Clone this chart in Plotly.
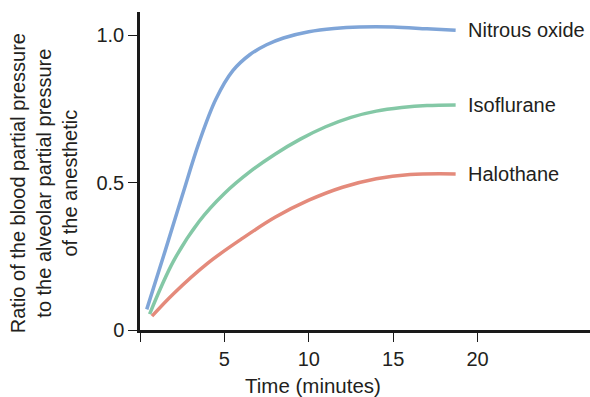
import plotly.graph_objects as go

# Time (minutes) and blood/alveolar partial pressure ratio for each anesthetic
nitrous_t = [0.4, 1.5, 2.5, 3.5, 4.5, 5.5, 6.5, 7.5, 8.5, 10.0, 11.5, 13.0, 15.0, 17.0, 18.7]
nitrous_v = [0.07, 0.27, 0.455, 0.636, 0.783, 0.879, 0.933, 0.967, 0.99, 1.011, 1.022, 1.027, 1.027, 1.021, 1.016]

iso_t = [0.57, 2.0, 3.5, 5.0, 6.5, 8.0, 9.5, 11.0, 12.5, 14.0, 15.5, 17.0, 18.7]
iso_v = [0.054, 0.235, 0.368, 0.463, 0.536, 0.596, 0.647, 0.689, 0.721, 0.742, 0.754, 0.761, 0.763]

halo_t = [0.71, 2.0, 4.0, 6.0, 8.0, 10.0, 12.0, 14.0, 16.0, 18.7]
halo_v = [0.047, 0.124, 0.226, 0.308, 0.382, 0.44, 0.484, 0.513, 0.527, 0.529]

names = ["Nitrous oxide", "Isoflurane", "Halothane"]
colors = ["#7fa5d8", "#84c8a6", "#e48a7b"]

x_ticks = [0, 5, 10, 15, 20]
x_tick_text = ["", "5", "10", "15", "20"]
y_ticks = [0, 0.5, 1.0]
y_tick_text = ["0", "0.5", "1.0"]

FONT = "Liberation Sans, Arial, Helvetica, sans-serif"
TEXT_COLOR = "#231f20"

fig = go.Figure()
series = [(nitrous_t, nitrous_v), (iso_t, iso_v), (halo_t, halo_v)]
for (t, v), name, color in zip(series, names, colors):
    fig.add_trace(go.Scatter(
        x=t, y=v, mode="lines", name=name,
        line=dict(color=color, width=3.5, shape="spline", smoothing=1.0),
        hoverinfo="skip", showlegend=False,
    ))
    fig.add_annotation(
        x=t[-1], y=v[-1], xref="x", yref="y", text=name,
        xanchor="left", yanchor="middle", xshift=10, showarrow=False,
        font=dict(family=FONT, size=20, color=TEXT_COLOR),
    )

# Axis titles
fig.add_annotation(
    x=0.384, y=-0.173, xref="paper", yref="paper", text="Time (minutes)",
    xanchor="center", yanchor="middle", showarrow=False,
    font=dict(family=FONT, size=20.5, color=TEXT_COLOR),
)
fig.add_annotation(
    x=-0.213, y=0.462, xref="paper", yref="paper",
    text="Ratio of the blood partial pressure<br>to the alveolar partial pressure<br>of the anesthetic",
    textangle=-90, align="center", xanchor="center", yanchor="middle", showarrow=False,
    font=dict(family=FONT, size=20, color=TEXT_COLOR),
)

fig.update_layout(
    width=590, height=397,
    margin=dict(l=140, r=0, t=12, b=67),
    paper_bgcolor="white", plot_bgcolor="white",
    font=dict(family=FONT, size=20, color=TEXT_COLOR),
    xaxis=dict(
        range=[0, 26.66], showgrid=False, zeroline=False,
        showline=True, linecolor="#1a1a1a", linewidth=2.5,
        ticks="outside", ticklen=9, tickwidth=1.2, tickcolor="#1a1a1a",
        tickvals=x_ticks, ticktext=x_tick_text,
        tickfont=dict(family=FONT, size=20, color=TEXT_COLOR),
    ),
    yaxis=dict(
        range=[0, 1.078], showgrid=False, zeroline=False,
        showline=True, linecolor="#1a1a1a", linewidth=2.5,
        ticks="outside", ticklen=9, tickwidth=1.2, tickcolor="#1a1a1a",
        tickvals=y_ticks, ticktext=y_tick_text,
        tickfont=dict(family=FONT, size=20, color=TEXT_COLOR),
    ),
)

fig.write_html("out.html")
